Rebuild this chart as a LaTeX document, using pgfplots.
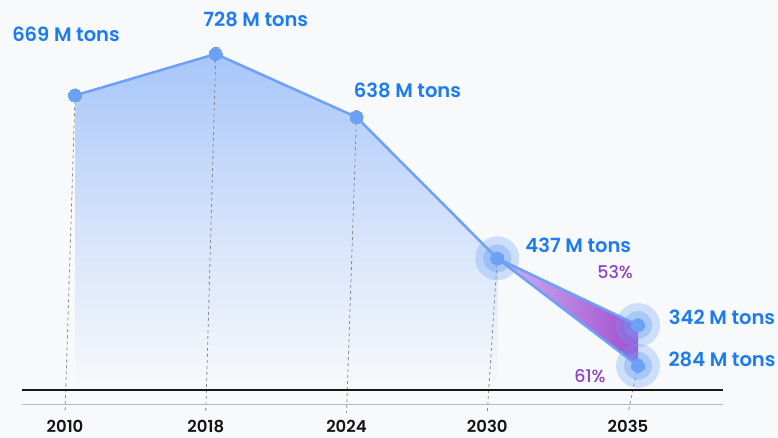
\documentclass[border=0pt]{standalone}
\usepackage{pgfplots}
\pgfplotsset{compat=1.18}
\usepackage{fontspec}
\setmainfont{Poppins}
\newfontfamily\sbfont{Poppins SemiBold}
\newfontfamily\mdfont{Poppins Medium}
\definecolor{bg}{HTML}{F8F9FB}
\definecolor{lineblue}{HTML}{6CA1F7}
\definecolor{areatop}{HTML}{A7C6FA}
\definecolor{labelblue}{HTML}{1B7BF5}
\definecolor{purp}{HTML}{8C42C8}
\definecolor{trileft}{HTML}{CDB6F2}
\definecolor{triright}{HTML}{A24CCF}
\tikzset{
  lbl/.style={font=\sbfont\fontsize{19.5}{22}\selectfont, text=labelblue, inner sep=0pt},
  pct/.style={font=\mdfont\fontsize{17.5}{20}\selectfont, text=purp, inner sep=0pt},
  yr/.style={font=\sbfont\fontsize{16.5}{19}\selectfont, text=black!92, inner sep=0pt},
  dsh/.style={draw=black!45, line width=0.8pt, dash pattern=on 3pt off 3pt}}
\begin{document}
\begin{tikzpicture}
\begin{axis}[scale only axis,
  width=701pt, height=395pt,
  xmin=-0.3766, xmax=4.604, ymin=228.3, ymax=790.6,
  axis lines=none, clip=false, xtick=\empty, ytick=\empty]
% background frame (whole picture)
\fill[bg] (axis cs:-0.5329,181.3) rectangle (axis cs:4.9947,804.8);
% area
\addplot[draw=none, top color=areatop, bottom color=bg, middle color=areatop!45!bg] coordinates {(0,249.7) (0,669) (1,728) (2,638) (3,437) (3,249.7)};
% dashed guides
\addplot[dsh] coordinates {(0,669) (-0.071,216.9)};
\addplot[dsh] coordinates {(1,728) (0.929,216.9)};
\addplot[dsh] coordinates {(2,638) (1.929,216.9)};
\addplot[dsh] coordinates {(3,437) (2.929,216.9)};
\addplot[dsh] coordinates {(4,284) (3.929,216.9)};
% baseline and lower rule
\addplot[draw=black!28, line width=1pt] coordinates {(-0.3766,228.3) (4.604,228.3)};
\addplot[draw=black!90, line width=1.8pt] coordinates {(-0.3766,249.7) (4.604,249.7)};
% purple wedge
\addplot[draw=none, left color=trileft, right color=triright] coordinates {(3,437) (4,342) (4,284)};
% lines
\addplot[draw=lineblue, line width=2.5pt, line join=round] coordinates {(0,669) (1,728) (2,638) (3,437) (4,342)};
\addplot[draw=lineblue, line width=2.5pt, line join=round] coordinates {(3,437) (4,284)};
% halos
\addplot[only marks, color=lineblue, mark=*, mark size=22pt, mark options={fill=lineblue, fill opacity=0.3, draw opacity=0}] coordinates {(3,437) (4,342) (4,284)};
\addplot[only marks, color=lineblue, mark=*, mark size=14pt, mark options={fill=lineblue, fill opacity=0.38, draw opacity=0}] coordinates {(3,437) (4,342) (4,284)};
% points
\addplot[only marks, color=lineblue, mark=*, mark size=6.5pt, mark options={fill=lineblue, draw=lineblue, line width=0pt}] coordinates {(0,669) (1,728) (2,638) (3,437) (4,342) (4,284)};
% value labels
\node[lbl] at (axis cs:0,669) [xshift=-9pt, yshift=61pt] {669 M tons};
\node[lbl] at (axis cs:1,728) [xshift=40pt, yshift=35pt] {728 M tons};
\node[lbl] at (axis cs:2,638) [xshift=51pt, yshift=27pt] {638 M tons};
\node[lbl] at (axis cs:3,437) [xshift=81pt, yshift=13pt] {437 M tons};
\node[lbl] at (axis cs:4,342) [xshift=84pt, yshift=8pt] {342 M tons};
\node[lbl] at (axis cs:4,284) [xshift=84pt, yshift=6pt] {284 M tons};
\node[pct] at (axis cs:3.837,417.6) {53\%};
\node[pct] at (axis cs:3.659,269.6) {61\%};
% year labels
\node[yr] at (axis cs:-0.071,197.5) {2010};
\node[yr] at (axis cs:0.929,197.5) {2018};
\node[yr] at (axis cs:1.929,197.5) {2024};
\node[yr] at (axis cs:2.929,197.5) {2030};
\node[yr] at (axis cs:3.929,197.5) {2035};
\end{axis}
\end{tikzpicture}
\end{document}
